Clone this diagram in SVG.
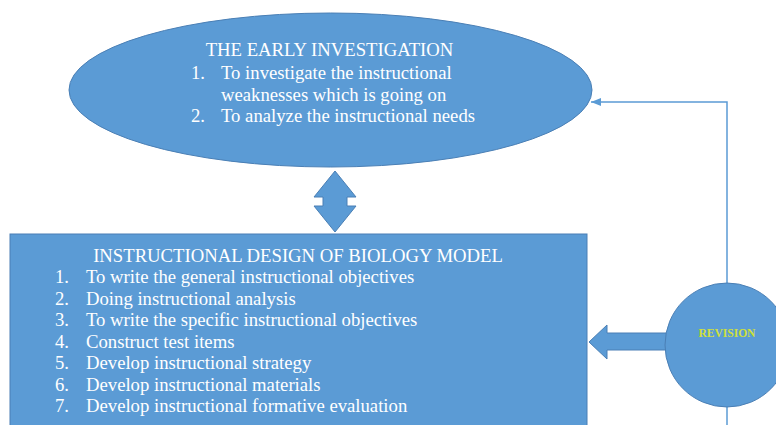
<svg xmlns="http://www.w3.org/2000/svg" width="776" height="425" viewBox="0 0 776 425">
<style>
.shape{fill:#5B9BD5;stroke:#4A7FB5;stroke-width:1}
.t{font-family:"Liberation Serif","Times New Roman",serif;font-size:18.7px;fill:#FFFFFF}
.mid{text-anchor:middle}
.rev{font-family:"Liberation Serif","Times New Roman",serif;font-size:11.5px;font-weight:bold;fill:#CFE03A;text-anchor:middle}
.conn{fill:none;stroke:#5B9BD5;stroke-width:1.5}
</style>
<defs>
<marker id="ah" viewBox="0 0 10 8" refX="10" refY="4" markerWidth="10" markerHeight="8" markerUnits="userSpaceOnUse" orient="auto">
<path d="M0,0 L10,4 L0,8 Z" fill="#5B9BD5"/>
</marker>
</defs>
<rect width="776" height="425" fill="#FFFFFF"/>
<g id="connectors">
<path class="conn" d="M727,283 L727,102 L591,102" marker-end="url(#ah)"/>
<path class="conn" d="M727,407 L727,425"/>
<path id="double-arrow" class="shape" d="M335,171 L356,197 L347,197 L347,206 L356,206 L335,232 L314,206 L323,206 L323,197 L314,197 Z"/>
<path id="block-arrow" class="shape" d="M589,342 L607,325 L607,333 L668,333 L668,350 L607,350 L607,359 Z"/>
</g>
<g id="early-investigation">
<ellipse class="shape" cx="330.5" cy="90" rx="261.5" ry="77"/>
<text class="t mid" x="329.5" y="56">THE EARLY INVESTIGATION</text>
<text class="t" x="191" y="79">1.</text>
<text class="t" x="221" y="79">To investigate the instructional</text>
<text class="t" x="221" y="100.5">weaknesses which is going on</text>
<text class="t" x="191" y="122">2.</text>
<text class="t" x="221" y="122">To analyze the instructional needs</text>
</g>
<g id="instructional-design">
<rect class="shape" x="10" y="234" width="577" height="200"/>
<text class="t mid" x="298" y="262">INSTRUCTIONAL DESIGN OF BIOLOGY MODEL</text>
<text class="t" x="55" y="283">1.</text><text class="t" x="86" y="283">To write the general instructional objectives</text>
<text class="t" x="55" y="304.5">2.</text><text class="t" x="86" y="304.5">Doing instructional analysis</text>
<text class="t" x="55" y="326">3.</text><text class="t" x="86" y="326">To write the specific instructional objectives</text>
<text class="t" x="55" y="347.5">4.</text><text class="t" x="86" y="347.5">Construct test items</text>
<text class="t" x="55" y="369">5.</text><text class="t" x="86" y="369">Develop instructional strategy</text>
<text class="t" x="55" y="390.5">6.</text><text class="t" x="86" y="390.5">Develop instructional materials</text>
<text class="t" x="55" y="412">7.</text><text class="t" x="86" y="412">Develop instructional formative evaluation</text>
</g>
<g id="revision">
<circle class="shape" cx="727" cy="345" r="62"/>
<text class="rev" x="727" y="337">REVISION</text>
</g>
</svg>
